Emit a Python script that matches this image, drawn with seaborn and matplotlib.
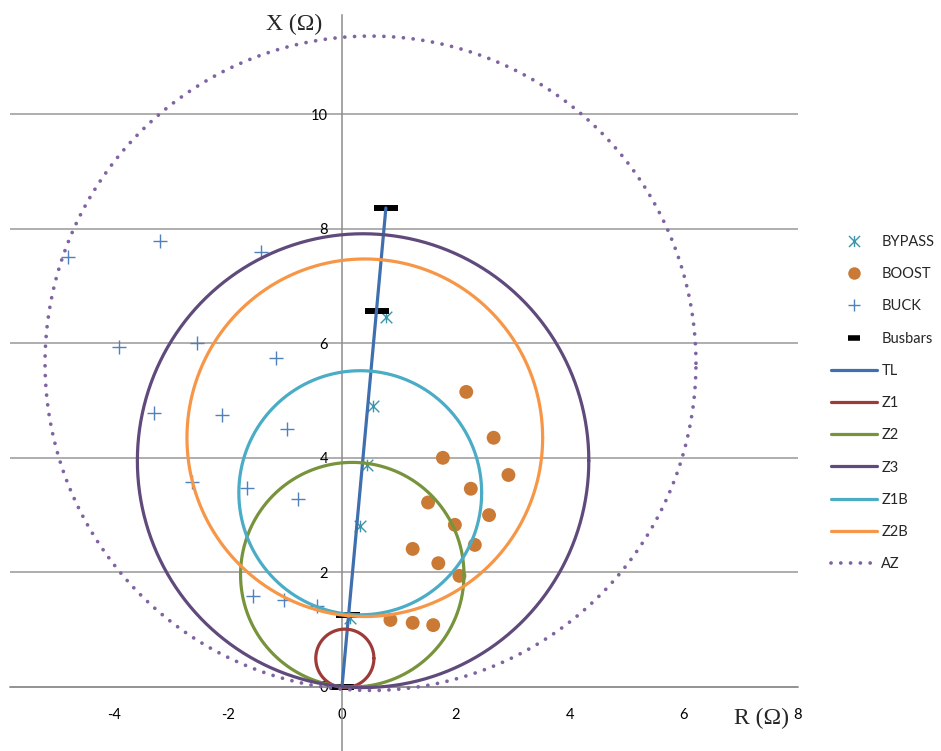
import numpy as np
import pandas as pd
import matplotlib
matplotlib.use("Agg")
import matplotlib.pyplot as plt
from matplotlib.lines import Line2D
from matplotlib.path import Path
import seaborn as sns

# ---------------- data ----------------
bypass_r = [0.77, 0.55, 0.43, 0.32, 0.14]
bypass_x = [6.46, 4.90, 3.87, 2.81, 1.20]

boost_r = [2.18, 2.66, 1.77, 2.92, 2.26, 1.51, 2.58, 1.98, 1.24, 2.33, 1.69, 2.06, 0.85, 1.24, 1.60]
boost_x = [5.15, 4.35, 4.00, 3.70, 3.46, 3.22, 3.00, 2.83, 2.41, 2.48, 2.16, 1.94, 1.17, 1.12, 1.08]

buck_r = [-4.81, -3.19, -1.42, -3.91, -2.54, -1.16, -3.29, -2.10, -0.96, -2.63, -1.67, -0.78, -1.57, -1.01, -0.44]
buck_x = [7.51, 7.78, 7.60, 5.94, 6.00, 5.75, 4.79, 4.75, 4.51, 3.57, 3.48, 3.28, 1.58, 1.51, 1.41]

busbar_r = [0.0, 0.11, 0.61, 0.77]
busbar_x = [0.0, 1.25, 6.57, 8.36]

tl_r = [0.0, 0.77]
tl_x = [0.0, 8.36]

zone_names = ["Z1", "Z2", "Z3", "Z1B", "Z2B", "AZ"]
zone_center_r = [0.05, 0.18, 0.37, 0.32, 0.40, 0.50]
zone_center_x = [0.50, 1.96, 3.95, 3.39, 4.35, 5.65]
zone_radius = [0.51, 1.96, 3.96, 2.13, 3.12, 5.71]
zone_colors = ["#9E3B39", "#77933C", "#604A7B", "#4BACC6", "#F79646", "#8064A2"]

x_ticks = [-4, -2, 0, 2, 4, 6, 8]
y_ticks = [0, 2, 4, 6, 8, 10]

# ---------------- style ----------------
sns.set_style("white")
plt.rcParams["font.family"] = ["Lato", "DejaVu Sans"]
plt.rcParams["axes.unicode_minus"] = False

W, H = 941, 751
fig = plt.figure(figsize=(W / 100, H / 100), dpi=100)
ax_left, ax_right, ax_top, ax_bottom = 10, 798, 15, 751
ax = fig.add_axes([ax_left / W, 1 - ax_bottom / H, (ax_right - ax_left) / W, (ax_bottom - ax_top) / H])

px_x = 57.0
px_y = 57.3
ax.set_xlim((ax_left - 342) / px_x, (ax_right - 342) / px_x)
ax.set_ylim(-(ax_bottom - 687) / px_y, (687 - ax_top) / px_y)

# Excel-style "star" marker: an X with a vertical stroke
star = Path([(-1, -1), (1, 1), (-1, 1), (1, -1), (0, -1), (0, 1)],
            [Path.MOVETO, Path.LINETO, Path.MOVETO, Path.LINETO, Path.MOVETO, Path.LINETO])

# ---------------- markers ----------------
c_bypass = "#3A95AD"
c_boost = "#CB7A36"
c_buck = "#4F81BD"
c_tl = "#3F6FAE"

sns.scatterplot(x=bypass_r, y=bypass_x, marker=star, s=70, color=c_bypass,
                edgecolor=c_bypass, linewidth=1.0, ax=ax, zorder=3, legend=False)
sns.scatterplot(x=boost_r, y=boost_x, marker="o", s=100, color=c_boost,
                edgecolor="none", linewidth=0, ax=ax, zorder=3, legend=False)
sns.scatterplot(x=buck_r, y=buck_x, marker="+", s=95, color=c_buck,
                edgecolor=c_buck, linewidth=1.0, ax=ax, zorder=3, legend=False)
sns.scatterplot(x=busbar_r, y=busbar_x, marker="_", s=280, color="black",
                edgecolor="black", linewidth=4.3, ax=ax, zorder=3, legend=False)

# ---------------- lines ----------------
sns.lineplot(x=tl_r, y=tl_x, sort=False, estimator=None, color=c_tl, lw=2.3,
             ax=ax, zorder=4, legend=False)

theta = np.linspace(0, 2 * np.pi, 721)
for name, cr, cx, rad, col in zip(zone_names, zone_center_r, zone_center_x, zone_radius, zone_colors):
    df = pd.DataFrame({"R": cr + rad * np.cos(theta), "X": cx + rad * np.sin(theta)})
    if name == "AZ":
        sns.lineplot(data=df, x="R", y="X", sort=False, estimator=None, color=col, lw=2.7,
                     linestyle=(0, (0.01, 2.6)), dash_capstyle="round", ax=ax, zorder=4, legend=False)
    else:
        sns.lineplot(data=df, x="R", y="X", sort=False, estimator=None, color=col, lw=2.3,
                     ax=ax, zorder=4, legend=False)

# ---------------- axes ----------------
for s in ["top", "right"]:
    ax.spines[s].set_visible(False)
ax.spines["left"].set_position(("data", 0))
ax.spines["bottom"].set_position(("data", 0))
for s in ["left", "bottom"]:
    ax.spines[s].set_color("#8C8C8C")
    ax.spines[s].set_linewidth(1.1)
    ax.spines[s].set_zorder(1)

ax.set_xticks(x_ticks)
ax.set_yticks(y_ticks)
ax.set_xticklabels([str(v) for v in x_ticks])
ax.set_yticklabels([str(v) for v in y_ticks])
ax.tick_params(axis="x", direction="out", length=4, width=1, color="#8C8C8C", pad=11,
               labelsize=10.5, labelcolor="black")
ax.tick_params(axis="y", direction="out", length=4, width=1, color="#8C8C8C", pad=6,
               labelsize=10.5, labelcolor="black")
ax.yaxis.grid(True, color="#999999", lw=1.1)
ax.xaxis.grid(False)
ax.set_axisbelow(True)
ax.set_xlabel("")
ax.set_ylabel("")

fig.text(294 / W, 1 - 24 / H, "X (Ω)", ha="center", va="center",
         family=["Liberation Serif", "DejaVu Serif"], fontsize=17)
fig.text(762 / W, 1 - 718 / H, "R (Ω)", ha="center", va="center",
         family=["Liberation Serif", "DejaVu Serif"], fontsize=17)

# ---------------- legend ----------------
handles = [
    Line2D([], [], ls="none", marker=star, ms=8, mec=c_bypass, mfc="none", mew=1.0),
    Line2D([], [], ls="none", marker="o", ms=9, mfc=c_boost, mec="none"),
    Line2D([], [], ls="none", marker="+", ms=9, mec=c_buck, mew=1.0),
    Line2D([], [], ls="none", marker="_", ms=8, mec="black", mew=4),
    Line2D([], [], color=c_tl, lw=2.3),
]
labels = ["BYPASS", "BOOST", "BUCK", "Busbars", "TL"]
for name, col in zip(zone_names, zone_colors):
    if name == "AZ":
        handles.append(Line2D([], [], color=col, lw=2.7, ls=(0, (0.01, 2.6)), dash_capstyle="round"))
    else:
        handles.append(Line2D([], [], color=col, lw=2.3))
    labels.append(name)

fig.legend(handles, labels, loc="upper left", bbox_to_anchor=(831 / W, 1 - 235 / H),
           bbox_transform=fig.transFigure, frameon=False, fontsize=10.5,
           handlelength=3.15, handletextpad=0.3, labelspacing=1.25,
           borderpad=0, borderaxespad=0)

fig.savefig("out.png", dpi=100)
